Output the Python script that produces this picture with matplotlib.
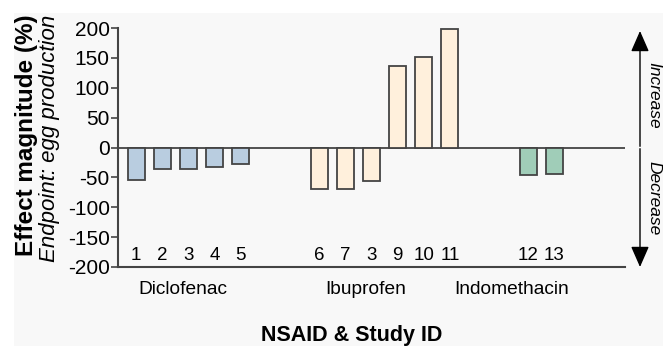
import matplotlib
matplotlib.use("Agg")
import matplotlib.pyplot as plt
from matplotlib.patches import Rectangle
import matplotlib.transforms as mtransforms

plt.rcParams['font.family'] = ['Liberation Sans', 'DejaVu Sans']

# data
study_ids = ['1', '2', '3', '4', '5', '6', '7', '3', '9', '10', '11', '12', '13']
positions = [0, 1, 2, 3, 4, 7, 8, 9, 10, 11, 12, 15, 16]
effects = [-55, -36, -36, -32, -28, -69, -69, -56, 137, 151, 198, -46, -44]
drug = ['Diclofenac'] * 5 + ['Ibuprofen'] * 6 + ['Indomethacin'] * 2
drug_names = ['Diclofenac', 'Ibuprofen', 'Indomethacin']
drug_label_x = [1.8, 8.77, 14.35]
yticks = [-200, -150, -100, -50, 0, 50, 100, 150, 200]

color_map = {
    'Diclofenac': '#b9cde0',
    'Ibuprofen': '#fff0dc',
    'Indomethacin': '#a0cdb8',
}
edge = '#444444'
bg = '#f8f8f8'

fig = plt.figure(figsize=(6.63, 3.46), dpi=100)
fig.patch.set_facecolor('white')
# light grey panel behind the chart
fig.patches.append(Rectangle((14 / 663, 0), 1, (346 - 13) / 346,
                             transform=fig.transFigure, facecolor=bg,
                             edgecolor='none', zorder=-10))

ax = fig.add_axes([118 / 663, (346 - 267) / 346, (625 - 118) / 663, (267 - 28) / 346])
ax.patch.set_alpha(0)

colors = [color_map[d] for d in drug]
ax.bar(positions, effects, width=0.65, color=colors, edgecolor=edge, linewidth=1.3, zorder=3)
ax.axhline(0, color=edge, lw=1.3, zorder=2)

ax.set_xlim(-0.7, 18.7)
ax.set_ylim(-200, 200)
ax.set_yticks(yticks)
ax.set_yticklabels([str(t) for t in yticks], fontsize=15)
ax.tick_params(axis='y', length=5, width=1.2, color=edge, pad=1)
ax.set_xticks([])
for s in ['top', 'right']:
    ax.spines[s].set_visible(False)
for s in ['left', 'bottom']:
    ax.spines[s].set_color(edge)
    ax.spines[s].set_linewidth(1.5)

# study IDs inside the axes
for x, sid in zip(positions, study_ids):
    ax.text(x, -181, sid, ha='center', va='center', fontsize=13.5)

# drug group labels under the axis
trans = mtransforms.blended_transform_factory(ax.transData, fig.transFigure)
for x, name in zip(drug_label_x, drug_names):
    ax.text(x, 1 - 290 / 346, name, transform=trans, ha='center', va='center', fontsize=13.8)

fig.text(352 / 663, 1 - 336 / 346, 'NSAID & Study ID', ha='center', va='center',
         fontsize=15.5, fontweight='bold')
fig.text(27 / 663, 1 - 135 / 346, 'Effect magnitude (%)', ha='center', va='center',
         rotation=90, fontsize=17.5, fontweight='bold')
fig.text(50 / 663, 1 - 138 / 346, 'Endpoint: egg production', ha='center', va='center',
         rotation=90, fontsize=16, style='italic')

# increase / decrease arrows on the right
atrans = mtransforms.blended_transform_factory(fig.transFigure, ax.transData)
ax_x = 640 / 663
astyle = dict(arrowstyle='-|>,head_length=0.8,head_width=0.35', mutation_scale=16,
              color='black', lw=1.0, shrinkA=0, shrinkB=0)
ax.annotate('', xy=(ax_x, 195), xytext=(ax_x, 2), xycoords=atrans, textcoords=atrans,
            arrowprops=astyle, annotation_clip=False)
ax.annotate('', xy=(ax_x, -200), xytext=(ax_x, -2), xycoords=atrans, textcoords=atrans,
            arrowprops=astyle, annotation_clip=False)
fig.text(654 / 663, 1 - 95 / 346, 'Increase', ha='center', va='center',
         rotation=-90, fontsize=12.5, style='italic')
fig.text(654 / 663, 1 - 198 / 346, 'Decrease', ha='center', va='center',
         rotation=-90, fontsize=12.5, style='italic')

fig.savefig('out.png', dpi=100, facecolor=fig.get_facecolor())
